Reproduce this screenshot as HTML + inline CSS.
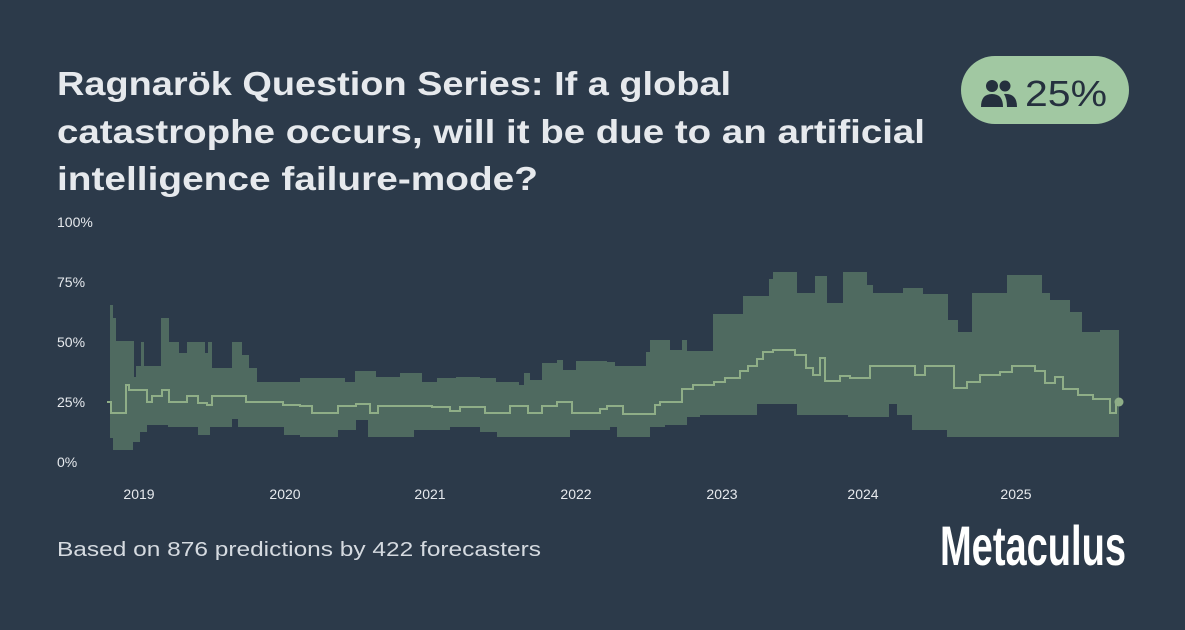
<!DOCTYPE html>
<html><head><meta charset="utf-8"><style>
html,body{margin:0;padding:0;background:#2c3a4a;}
svg{display:block;}
</style></head><body>
<svg width="1185" height="630" viewBox="0 0 1185 630" xmlns="http://www.w3.org/2000/svg" font-family="Liberation Sans, sans-serif">
<rect width="1185" height="630" fill="#2c3a4a"/>
<g fill="#e6e9ed" font-weight="bold" font-size="33">
<text x="57" y="95" textLength="674" lengthAdjust="spacingAndGlyphs">Ragnarök Question Series: If a global</text>
<text x="57" y="143" textLength="868" lengthAdjust="spacingAndGlyphs">catastrophe occurs, will it be due to an artificial</text>
<text x="57" y="190" textLength="481" lengthAdjust="spacingAndGlyphs">intelligence failure-mode?</text>
</g>
<rect x="961" y="56" width="168" height="68" rx="34" fill="#a1c8a2"/>
<g fill="#25303e">
<circle cx="992" cy="86" r="6"/>
<path d="M981 107 q0 -13 11 -13 q11 0 11 13 z"/>
<circle cx="1005" cy="86" r="5.5"/>
<path d="M1004 94 q13 -1 13 13 h-10 q0 -8 -3 -13z"/>
<text x="1025" y="106" font-size="36" textLength="82" lengthAdjust="spacingAndGlyphs">25%</text>
</g>
<g fill="#e6e9ed" font-size="14">
<text x="57" y="227">100%</text>
<text x="57" y="287">75%</text>
<text x="57" y="347">50%</text>
<text x="57" y="407">25%</text>
<text x="57" y="467">0%</text>
<text x="139" y="499" text-anchor="middle">2019</text>
<text x="285" y="499" text-anchor="middle">2020</text>
<text x="430" y="499" text-anchor="middle">2021</text>
<text x="576" y="499" text-anchor="middle">2022</text>
<text x="722" y="499" text-anchor="middle">2023</text>
<text x="863" y="499" text-anchor="middle">2024</text>
<text x="1016" y="499" text-anchor="middle">2025</text>
</g>
<path fill="#4f6a60" d="M110 305 H113 V318 H116 V341 H134 V377 H136 V366 H141 V342 H144 V366 H161 V318 H169 V342 H179 V353 H187 V342 H205 V353 H208 V342 H212 V368 H232 V342 H242 V355 H249 V368 H257 V382 H300 V378 H345 V382 H355 V371 H376 V377 H400 V373 H422 V382 H437 V378 H456 V377 H480 V378 H496 V382 H519 V385 H524 V373 H530 V380 H542 V363 H557 V360 H563 V370 H576 V361 H607 V362 H615 V366 H646 V352 H650 V340 H670 V350 H682 V340 H687 V351 H713 V314 H743 V296 H769 V279 H773 V272 H797 V293 H815 V276 H827 V303 H843 V272 H867 V285 H873 V293 H903 V288 H923 V294 H948 V320 H958 V332 H972 V293 H1007 V275 H1042 V293 H1050 V300 H1070 V312 H1082 V332 H1100 V330 H1116 V330 H1119 V437
H947 V430 H912 V415 H897 V404 H889 V417 H848 V415 H797 V404 H757 V415 H700 V417 H687 V425 H665 V427 H650 V437 H617 V427 H610 V430 H570 V437 H525 V437 H497 V432 H480 V427 H450 V430 H414 V437 H368 V420 H356 V430 H338 V437 H300 V435 H284 V427 H238 V419 H232 V427 H210 V435 H198 V427 H168 V425 H147 V432 H140 V442 H133 V450 H113 V438 H110 Z"/>
<path fill="none" stroke="#8fae87" stroke-width="2" d="M107 402 H111 V413 H126 V385 H129 V390 H147 V402 H152 V396 H162 V390 H169 V402 H187 V396 H198 V403 H207 V405 H212 V396 H246 V402 H283 V405 H300 V406 H312 V413 H338 V406 H356 V404 H370 V413 H378 V406 H432 V407 H450 V411 H460 V407 H485 V413 H510 V406 H528 V413 H542 V406 H557 V402 H572 V413 H600 V409 H607 V406 H623 V414 H655 V405 H660 V402 H682 V389 H693 V385 H714 V382 H725 V378 H740 V371 H748 V366 H757 V359 H763 V352 H773 V350 H795 V355 H806 V368 H813 V375 H820 V358 H825 V381 H840 V376 H850 V378 H870 V366 H915 V375 H925 V366 H954 V388 H967 V382 H980 V375 H1000 V372 H1012 V366 H1035 V371 H1045 V383 H1055 V377 H1063 V389 H1078 V395 H1093 V399 H1110 V413 H1116 V402 H1119"/>
<circle cx="1119" cy="402" r="4.5" fill="#8fae87"/>
<text x="57" y="556" fill="#d5dae0" font-size="20" textLength="484" lengthAdjust="spacingAndGlyphs">Based on 876 predictions by 422 forecasters</text>
<text x="940" y="565" fill="#ffffff" font-size="56" font-weight="bold" textLength="186" lengthAdjust="spacingAndGlyphs">Metaculus</text>
</svg>
</body></html>
